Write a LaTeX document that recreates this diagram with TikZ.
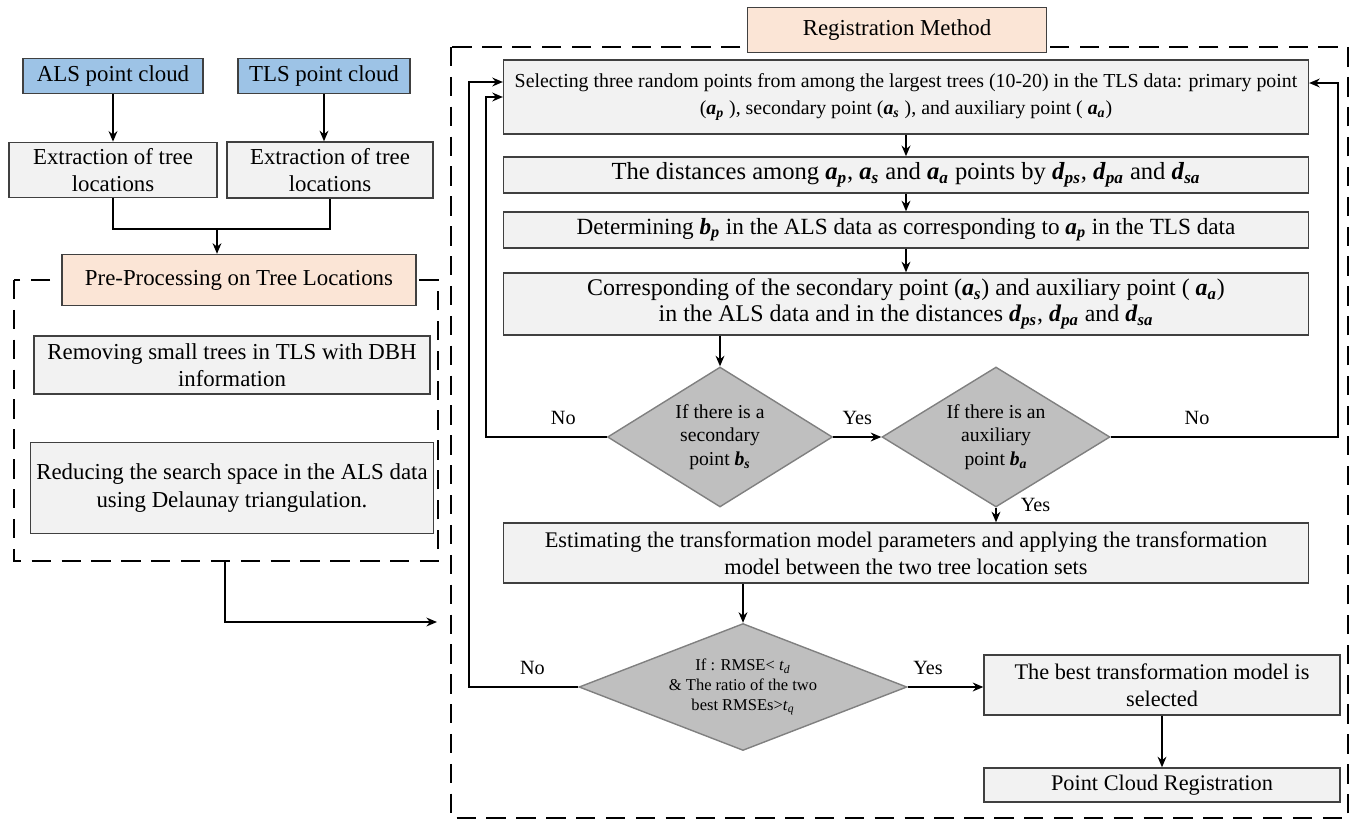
\documentclass[tikz,border=0pt]{standalone}
\usepackage{amsmath}
\usepackage{fontspec}
\setmainfont{Liberation Serif}
\usetikzlibrary{shapes.geometric,arrows.meta}
\definecolor{srcblue}{HTML}{9DC3E6}
\definecolor{peach}{HTML}{FBE5D6}
\definecolor{boxgray}{HTML}{F2F2F2}
\definecolor{condgray}{HTML}{BFBFBF}
\newcommand{\bsub}[2]{\textbf{\textit{#1}}\textsubscript{\textbf{\textit{#2}}}}
\newcommand{\fsz}[2]{\fontsize{#1}{#2}\selectfont}

\begin{document}
\begin{tikzpicture}[x=0.02cm,y=-0.02cm,>={Stealth[length=6pt,width=5pt]},
  srcbox/.style={draw=black!75,fill=srcblue,line width=0.8pt,minimum height=0.7cm,font=\fsz{13}{15.5}},
  lbox/.style={draw=black!75,fill=boxgray,line width=0.8pt,align=center,font=\fsz{13}{15.5}},
  rbox/.style={draw=black!75,fill=boxgray,line width=0.8pt,align=center,minimum width=16.1cm,font=\fsz{12.7}{15.3}},
  titlebox/.style={draw=black!75,fill=peach,line width=0.8pt,font=\fsz{13}{15.5}},
  cond/.style={diamond,draw=black!50,fill=condgray,line width=0.8pt,align=center,inner sep=1pt,aspect=1.6,font=\fsz{11.2}{13.3}},
  secframe/.style={dash pattern=on 11pt off 6pt,line width=1.6pt},
  conn/.style={line width=1.1pt},
  lbl/.style={font=\fsz{11.5}{14},yshift=3pt}]
\useasboundingbox (0,0) rectangle (1353,825);
\draw[secframe] (14,280) rectangle (438,561);
\draw[secframe] (451,47) rectangle (1348,818);

\node[srcbox,minimum width=3.6cm] (als) at (113,76) {ALS point cloud};
\node[srcbox,minimum width=3.44cm] (tls) at (324,76) {TLS point cloud};
\node[lbox,minimum width=4.16cm,minimum height=1.1cm] (exa) at (113,170) {Extraction of tree\\locations};
\node[lbox,minimum width=4.12cm,minimum height=1.12cm] (ext) at (330,170) {Extraction of tree\\locations};
\node[titlebox,minimum width=7.08cm,minimum height=1.02cm] (pre) at (239,280) {Pre-Processing on Tree Locations};
\node[lbox,minimum width=7.92cm,minimum height=1.16cm] (rem) at (232,365) {Removing small trees in TLS with DBH\\information};
\node[lbox,minimum width=7.92cm,minimum height=1.82cm] (red) at (232,488) {Reducing the search space in the ALS data\\using Delaunay triangulation.};

\node[titlebox,minimum width=5.98cm,minimum height=0.9cm] (reg) at (897,30) {Registration Method};
\node[rbox,minimum height=1.48cm,font=\fsz{11.3}{15.3}] (sel) at (906,97) {Selecting three random points from among the largest trees (10-20) in the TLS data: primary point\\(\bsub{a}{p} ), secondary point (\bsub{a}{s} ), and auxiliary point ( \bsub{a}{a})};
\node[rbox,minimum height=0.72cm,font=\fsz{14}{16}] (dist) at (906,175) {The distances among \bsub{a}{p}, \bsub{a}{s} and \bsub{a}{a} points by \bsub{d}{ps}, \bsub{d}{pa} and \bsub{d}{sa}};
\node[rbox,minimum height=0.72cm,font=\fsz{13.2}{15.5}] (det) at (906,230) {Determining \bsub{b}{p} in the ALS data as corresponding to \bsub{a}{p} in the TLS data};
\node[rbox,minimum height=1.24cm,font=\fsz{13.6}{14.6}] (cor) at (906,304) {Corresponding of the secondary point (\bsub{a}{s}) and auxiliary point ( \bsub{a}{a})\\in the ALS data and in the distances \bsub{d}{ps}, \bsub{d}{pa} and \bsub{d}{sa}};
\node[cond,minimum width=4.5cm,minimum height=2.8cm] (sec) at (720,437) {If there is a\\secondary\\point \bsub{b}{s}};
\node[cond,minimum width=4.56cm,minimum height=2.8cm] (aux) at (996,437) {If there is an\\auxiliary\\point \bsub{b}{a}};
\node[rbox,minimum height=1.2cm] (est) at (906,553) {Estimating the transformation model parameters and applying the transformation\\model between the two tree location sets};
\node[cond,aspect=2.58,minimum width=6.56cm,minimum height=2.54cm,font=\fsz{9.4}{11.3}] (rmse) at (743,687) {If : RMSE< \textit{t}\textsubscript{\textit{d}}\\\& The ratio of the two\\best RMSEs>\textit{t}\textsubscript{\textit{q}}};
\node[rbox,minimum width=7.12cm,minimum height=1.2cm] (best) at (1162,685) {The best transformation model is\\selected};
\node[rbox,minimum width=7.12cm,minimum height=0.68cm] (pcr) at (1162,785) {Point Cloud Registration};

\coordinate (join) at (217,229);
\coordinate (exit) at (225,561);
\coordinate (entry) at (437,622);
\coordinate (loopA) at (486,97);
\coordinate (loopB) at (469,82);
\coordinate (loopC) at (1338,83);

\draw[conn,->] (als) -- (exa);
\draw[conn,->] (tls.south) -- (tls.south |- ext.north);
\draw[conn] (exa.south) |- (join) -| (ext.south);
\draw[conn,->] (join) -- (join |- pre.north);
\draw[conn,->] (exit) |- (entry);

\foreach \a/\b in {sel/dist,dist/det,det/cor,best/pcr}
  \draw[conn,->] (\a) -- (\b);
\draw[conn,->] (cor.south -| sec.north) -- (sec.north);
\draw[conn,->] (sec.east) -- (aux.west) node[lbl,above,midway] (yes1) {Yes};
\draw[conn,->] (sec.west) -| (loopA) node[lbl,above,pos=0.18] (no1) {No} -- (sel.west);
\draw[conn,->] (aux.east) -| (loopC) node[lbl,above,pos=0.19] (no2) {No} -- (loopC -| sel.east);
\draw[conn,->] (aux.south) -- (aux.south |- est.north) node[lbl,anchor=west,pos=0,xshift=0.36cm,yshift=-0.05cm] (yes2) {Yes};
\draw[conn,->] (est.south -| rmse.north) -- (rmse.north);
\draw[conn,->] (rmse.west) -| (loopB) node[lbl,above,pos=0.21] (no3) {No} -- (loopB -| sel.west);
\draw[conn,->] (rmse.east) -- (rmse.east -| best.west) node[lbl,above,pos=0.27] (yes3) {Yes};
\end{tikzpicture}
\end{document}
